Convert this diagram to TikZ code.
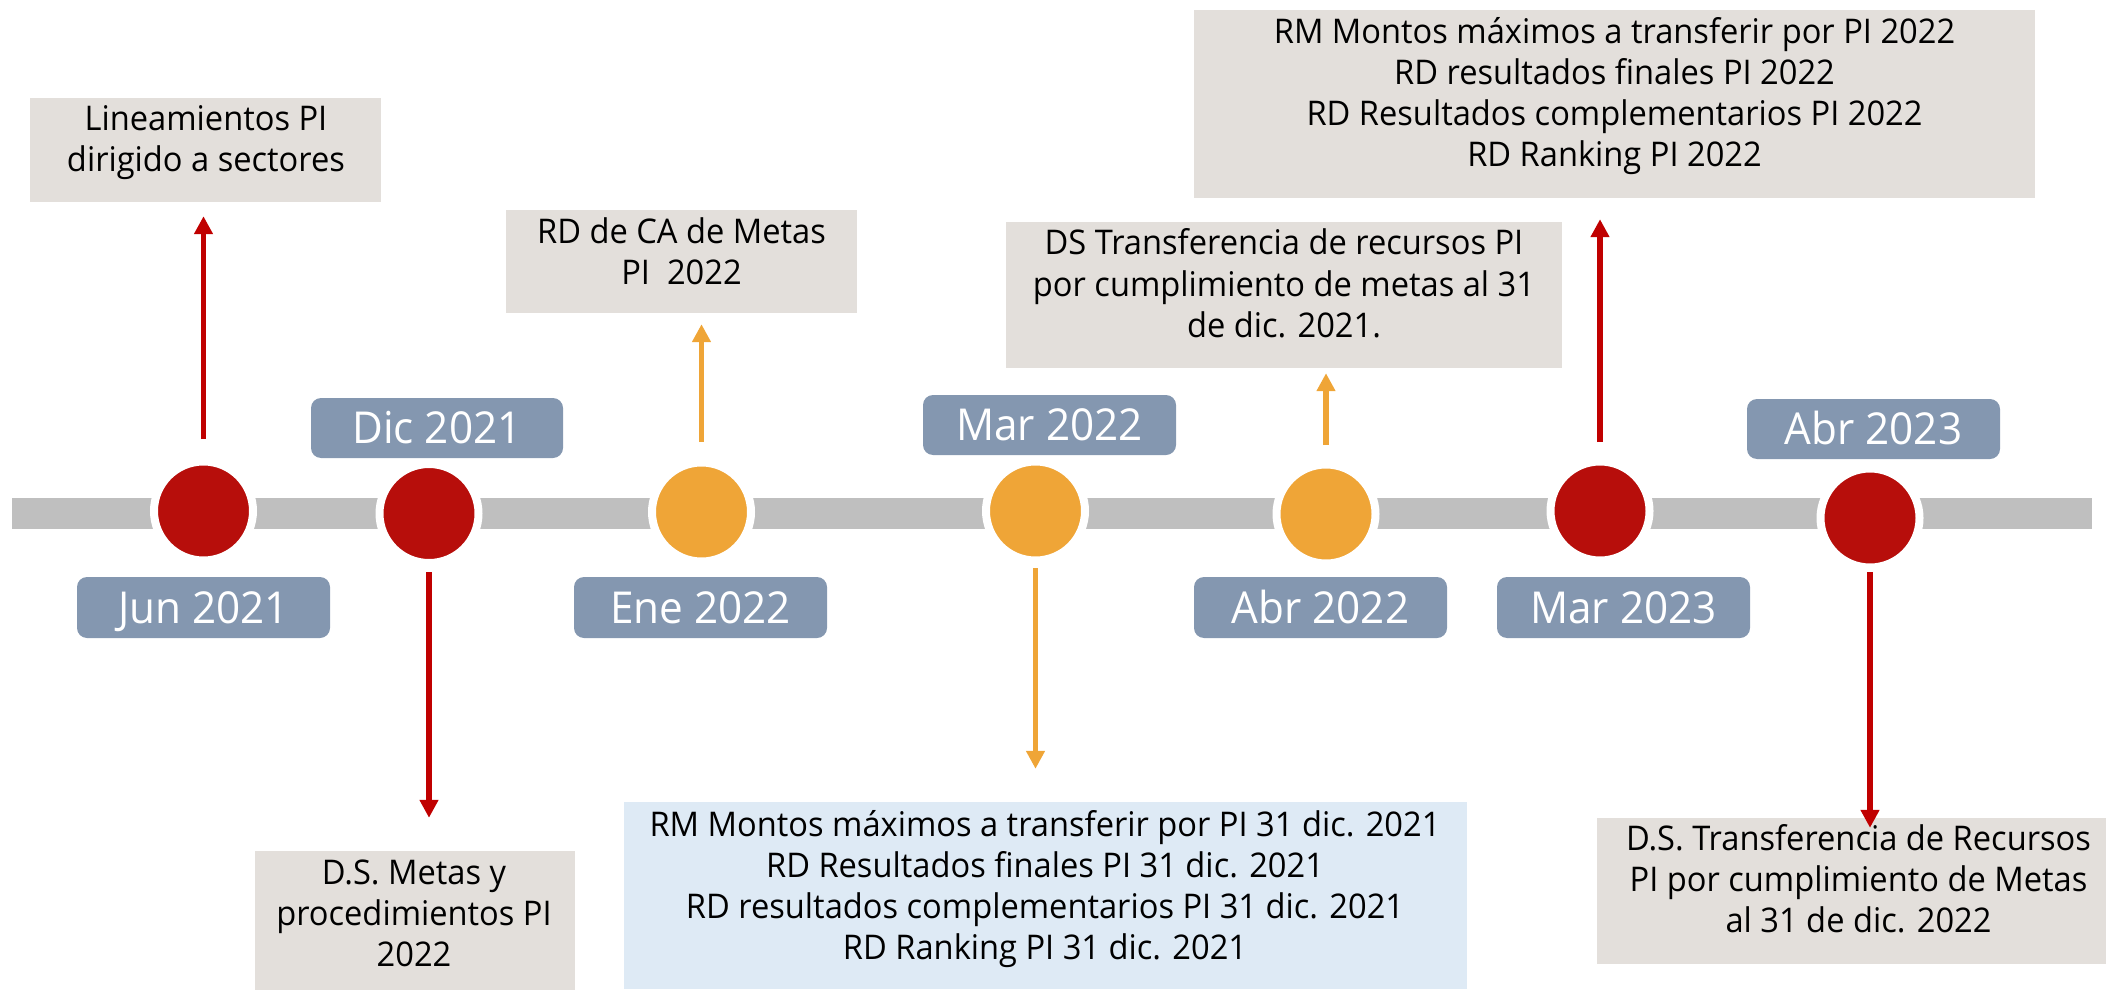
\documentclass[tikz,border=0pt]{standalone}
\usepackage{fontspec}
\setmainfont[FakeStretch=0.96]{Open Sans}
\usetikzlibrary{arrows.meta}
\definecolor{barg}{HTML}{BFBFBF}
\definecolor{dotred}{HTML}{B70E0B}
\definecolor{arrred}{HTML}{C00000}
\definecolor{orng}{HTML}{EFA537}
\definecolor{labc}{HTML}{8497B0}
\definecolor{grayb}{HTML}{E3DFDB}
\definecolor{blueb}{HTML}{DEEAF5}
\tikzset{
  dotr/.style={circle, minimum size=99pt, inner sep=0pt, fill=dotred, draw=white, line width=8pt},
  doto/.style={circle, minimum size=99pt, inner sep=0pt, fill=orng, draw=white, line width=8pt},
  datelab/.style={rounded corners=10pt, fill=labc, text=white, inner sep=0pt,
    minimum width=252pt, minimum height=60pt, text height=31.4pt, text depth=0pt,
    font=\fontsize{44}{52}\selectfont},
  graybox/.style={fill=grayb, inner sep=0pt},
  bluebox/.style={fill=blueb, inner sep=0pt},
  boxtext/.style={align=center, inner sep=0pt, text=black, font=\fontsize{34}{41}\selectfont},
  rarrow/.style={draw=arrred, line width=5.3pt, -{Triangle[length=18pt,width=18pt]}},
  oarrow/.style={draw=orng, line width=5.3pt, -{Triangle[length=18pt,width=18pt]}}
}
\begin{document}
\begin{tikzpicture}[x=1pt,y=-1pt]
\useasboundingbox (0,0) rectangle (2106,992);
% timeline bar
\fill[barg] (12,498) rectangle (2092,529);
% event dots
\node[dotr] (cjun)   at (203.5,511) {};
\node[dotr] (cdic)   at (429,513.5) {};
\node[doto] (cene)   at (701.5,512) {};
\node[doto] (cmar)   at (1035.5,511) {};
\node[doto] (cabr)   at (1326,514) {};
\node[dotr] (cmar23) at (1600,511) {};
\node[dotr] (cabr23) at (1870,518) {};
% date labels
\node[datelab, minimum width=253pt, minimum height=61pt] (ljun) at (203.5,607.5) {Jun 2021};
\node[datelab] (ldic) at (437,428) {Dic 2021};
\node[datelab, minimum width=253pt, minimum height=61pt] (lene) at (700.5,607.5) {Ene 2022};
\node[datelab, minimum width=253pt] (lmar) at (1049.5,425) {Mar 2022};
\node[datelab, minimum width=253pt, minimum height=61pt] (labr) at (1320.5,607.5) {Abr 2022};
\node[datelab, minimum width=253pt, minimum height=61pt] (lmar23) at (1623.5,607.5) {Mar 2023};
\node[datelab, minimum width=253pt] (labr23) at (1873.5,429) {Abr 2023};
% boxes
\node[graybox, minimum width=351pt, minimum height=104pt] (lin) at (205.5,150) {};
\node[boxtext] (lintxt) at (206,143.3) {\strut Lineamientos PI\\\strut dirigido a sectores};
\node[graybox, minimum width=351pt, minimum height=103pt] (rdca) at (681.5,261.5) {};
\node[boxtext] (rdcatxt) at (681.5,255.8) {\strut RD de CA de Metas\\\strut PI\ \ 2022};
\node[graybox, minimum width=556pt, minimum height=146pt] (dst) at (1284,295) {};
\node[boxtext] (dsttxt) at (1284,287.8) {\strut DS Transferencia de recursos PI\\\strut por cumplimiento de metas al 31\\\strut de dic. 2021.};
\node[graybox, minimum width=841pt, minimum height=188pt] (topb) at (1614.5,104) {};
\node[boxtext] (topbtxt) at (1614.5,96.5) {\strut RM Montos máximos a transferir por PI 2022\\\strut RD resultados finales PI 2022\\\strut RD Resultados complementarios PI 2022\\\strut RD Ranking PI 2022};
\node[graybox, minimum width=320pt, minimum height=139pt] (dsm) at (415,920.5) {};
\node[boxtext] (dsmtxt) at (414,916.8) {\strut D.S. Metas y\\\strut procedimientos PI\\\strut 2022};
\node[bluebox, minimum width=843pt, minimum height=187pt] (blue) at (1045.5,895.5) {};
\node[boxtext] (bluetxt) at (1045,889.3) {\strut RM Montos máximos a transferir por PI 31 dic. 2021\\\strut RD Resultados finales PI 31 dic. 2021\\\strut RD resultados complementarios PI 31 dic. 2021\\\strut RD Ranking PI 31 dic. 2021};
\node[graybox, minimum width=509pt, minimum height=146pt] (dsr) at (1851.5,891) {};
% arrows
\draw[rarrow, shorten <=18.5pt, shorten >=14pt] (cjun.north) -- (cjun.north |- lin.south);
\draw[rarrow, shorten <=5pt, shorten >=33pt] (cdic.south) -- (cdic.south |- dsm.north);
\draw[oarrow, shorten <=16.5pt, shorten >=11pt] (cene.north) -- (cene.north |- rdca.south);
\draw[oarrow, shorten <=3.5pt, shorten >=33pt] (cmar.south) -- (cmar.south |- blue.north);
\draw[oarrow, shorten <=15.5pt, shorten >=5pt] (cabr.north) -- (cabr.north |- dst.south);
\draw[rarrow, shorten <=15.5pt, shorten >=21pt] (cmar23.north) -- (cmar23.north |- topb.south);
\draw[rarrow, shorten <=0.5pt, shorten >=-10pt] (cabr23.south) -- (cabr23.south |- dsr.north);
\node[boxtext] (dsrtxt) at (1858.5,883.3) {\strut D.S. Transferencia de Recursos\\\strut PI por cumplimiento de Metas\\\strut al 31 de dic. 2022};
\end{tikzpicture}
\end{document}
